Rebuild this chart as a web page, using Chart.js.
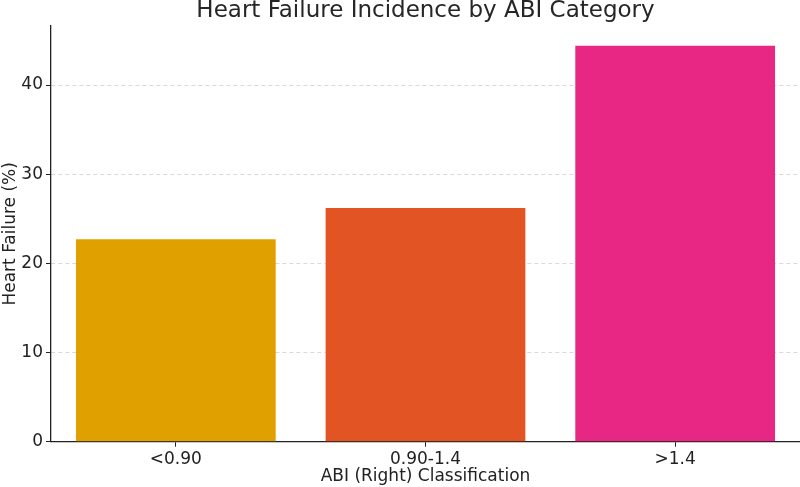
<!DOCTYPE html>
<html>
<head>
<meta charset="utf-8">
<script src="https://cdn.jsdelivr.net/npm/chart.js@4/dist/chart.umd.min.js"></script>
<style>
html,body{margin:0;padding:0;background:#fff;}
#wrap{width:800px;height:487px;position:relative;}
</style>
</head>
<body>
<div id="wrap"><canvas id="c" width="800" height="487"></canvas></div>
<script>
const chartTitle = "Heart Failure Incidence by ABI Category";
const categories = ["<0.90", "0.90-1.4", ">1.4"];
const heartFailurePct = [22.7, 26.2, 44.4];
const barColors = ["#E0A000", "#E25423", "#E82683"];
const yTickStep = 10;
const xAxisTitle = "ABI (Right) Classification";
const yAxisTitle = "Heart Failure (%)";

const FONT = "'DejaVu Sans', sans-serif";

const titlePlugin = {
  id: 'topTitle',
  afterDraw(chart) {
    const ctx = chart.ctx;
    const a = chart.chartArea;
    ctx.save();
    ctx.font = "23px " + FONT;
    ctx.fillStyle = "#262626";
    ctx.textAlign = "center";
    ctx.textBaseline = "alphabetic";
    ctx.fillText(chartTitle, (a.left + a.right) / 2, 17);
    ctx.restore();
  }
};

new Chart(document.getElementById('c'), {
  type: 'bar',
  data: {
    labels: categories,
    datasets: [{
      data: heartFailurePct,
      backgroundColor: barColors,
      borderWidth: 0,
      barPercentage: 0.8,
      categoryPercentage: 1.0
    }]
  },
  options: {
    responsive: false,
    animation: false,
    devicePixelRatio: 1,
    layout: { padding: { top: 26, right: 0, bottom: 0, left: 0 } },
    plugins: { legend: { display: false }, tooltip: { enabled: false }, title: { display: false } },
    scales: {
      x: {
        offset: true,
        grid: { display: true, drawOnChartArea: false, drawTicks: true, tickLength: 5, offset: false, color: '#222', lineWidth: 1 },
        border: { display: true, color: '#222', width: 1.3 },
        ticks: { color: '#222', font: { family: FONT, size: 17 }, padding: 3 },
        title: { display: true, text: xAxisTitle, color: '#222', font: { family: FONT, size: 17 }, padding: { top: 2, bottom: 0 } },
        afterFit(scale) { scale.height = 45.3; }
      },
      y: {
        min: 0,
        max: Math.max(...heartFailurePct) * 1.05,
        grid: { display: true, drawOnChartArea: true, drawTicks: true, tickLength: 5, color: '#c8d2d8', lineWidth: 0.8, tickColor: '#222', tickWidth: 1 },
        border: { display: true, color: '#222', width: 1.3, dash: [4, 3] },
        ticks: { stepSize: yTickStep, includeBounds: false, color: '#222', font: { family: FONT, size: 17 }, padding: 3 },
        title: { display: true, text: yAxisTitle, color: '#222', font: { family: FONT, size: 17 }, padding: { top: 0, bottom: 0 } },
        afterFit(scale) { scale.width = 51; }
      }
    }
  },
  plugins: [titlePlugin]
});
</script>
</body>
</html>
